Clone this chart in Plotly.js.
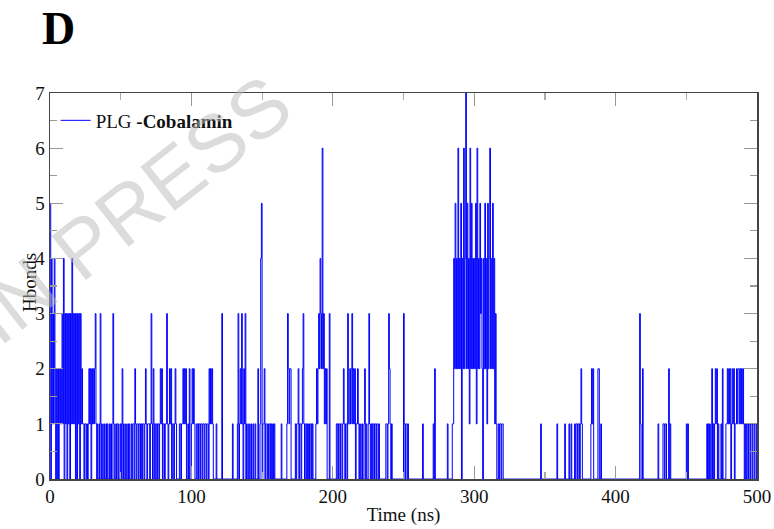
<!DOCTYPE html>
<html>
<head>
<meta charset="utf-8">
<script src="https://cdn.plot.ly/plotly-3.0.1.min.js"></script>
<style>html,body{margin:0;padding:0;background:#fff;}#chart{width:774px;height:529px;}</style>
</head>
<body>
<div id="chart"></div>
<script>
const timeStepNs = 0.5;
const hbonds = [
  5,0,4,1,3,1,4,2,0,2,0,2,0,2,1,2,1,3,1,4,
  0,3,1,3,0,3,1,3,0,3,1,4,1,3,1,3,0,3,0,3,
  1,3,0,3,1,2,1,1,0,1,1,0,1,0,1,2,1,2,0,2,
  1,2,1,2,3,1,0,1,0,0,1,3,0,1,0,0,1,0,0,1,
  0,1,0,0,1,0,1,0,0,3,1,0,0,1,0,1,1,0,0,1,
  0,1,2,0,1,0,0,1,0,0,1,0,1,0,0,1,0,1,1,0,
  2,1,0,1,1,0,1,1,0,1,0,1,1,0,1,2,1,0,1,1,
  1,0,1,3,1,0,2,1,0,1,1,0,1,1,0,1,2,1,2,0,
  1,1,0,1,1,3,1,0,1,2,1,2,0,1,1,0,1,2,1,0,
  0,0,0,1,1,0,1,1,2,1,2,1,2,0,0,1,0,2,0,0,
  1,2,1,2,1,0,0,1,1,0,1,1,0,1,1,0,1,1,0,1,
  1,0,1,1,0,2,1,2,1,2,1,0,0,0,0,1,0,0,0,0,
  0,0,0,3,0,0,0,0,0,0,0,0,0,0,0,0,0,0,1,0,
  0,0,0,0,0,1,3,0,1,2,1,3,1,0,2,1,3,0,1,0,
  0,1,0,0,1,0,0,1,0,0,1,0,0,0,2,0,0,1,4,5,
  0,1,1,2,0,1,1,0,1,0,1,1,0,1,0,1,0,1,0,0,
  0,0,0,0,0,0,0,1,0,0,0,0,0,0,0,1,3,2,1,2,
  2,0,0,0,0,0,0,1,0,1,1,2,0,1,1,0,1,2,3,1,
  0,1,1,0,1,0,1,0,1,1,0,1,0,0,0,0,1,2,1,2,
  3,2,4,3,2,6,2,3,1,2,1,2,0,0,0,3,0,0,0,0,
  0,0,0,0,0,1,1,0,1,1,0,1,1,0,1,2,1,0,1,1,
  0,3,1,1,2,1,2,3,1,2,1,2,0,1,1,2,1,0,1,0,
  0,1,0,0,1,2,0,1,0,0,1,3,1,0,1,0,1,1,0,1,
  1,0,1,1,0,1,0,0,0,0,0,0,0,0,0,1,1,0,1,3,
  2,1,0,1,0,0,0,0,0,0,0,0,0,0,0,0,0,0,0,0,
  3,1,0,1,1,0,1,0,0,0,0,0,0,0,0,0,0,0,0,0,
  0,0,0,0,0,0,0,1,0,0,0,0,0,0,0,0,0,0,0,0,
  0,0,1,0,2,0,0,0,0,0,0,0,0,0,0,0,0,0,0,0,
  0,0,1,0,0,0,0,0,0,1,1,4,2,5,2,4,2,6,2,4,
  2,5,0,4,2,6,2,4,7,2,5,2,4,1,6,2,5,2,4,2,
  4,2,5,1,6,2,4,2,5,3,4,2,0,4,2,5,2,4,1,5,
  2,4,6,2,4,2,5,2,4,1,3,1,0,0,1,0,1,1,0,1,
  1,0,0,0,0,0,0,0,0,0,0,0,0,0,0,0,0,0,0,0,
  0,0,0,0,0,0,0,0,0,0,0,0,0,0,0,0,0,0,0,0,
  0,0,0,0,0,0,0,0,0,0,0,0,0,0,1,0,0,0,0,0,
  0,0,0,0,0,0,0,0,0,0,0,0,0,0,0,0,0,1,0,0,
  0,0,0,0,0,0,0,0,1,0,0,0,0,0,1,0,0,1,0,0,
  0,0,1,0,1,1,0,1,1,0,1,2,1,0,0,0,0,0,0,0,
  0,0,0,0,0,1,2,1,2,0,0,0,0,0,0,2,2,0,0,1,
  0,0,0,0,0,0,0,0,0,0,0,0,0,0,0,0,0,0,0,0,
  0,0,0,0,0,0,0,0,0,0,0,0,0,0,0,0,0,0,0,0,
  0,0,0,0,0,0,0,0,0,0,0,0,0,0,3,1,0,0,2,0,
  0,0,0,0,0,0,0,0,0,0,0,0,0,0,0,0,0,0,0,0,
  1,0,0,0,0,0,0,1,1,0,1,1,0,0,0,2,0,1,0,0,
  0,0,0,0,0,0,0,0,0,0,0,0,0,0,0,0,0,0,0,0,
  1,0,1,0,0,0,0,0,0,0,0,0,0,0,0,0,0,0,0,0,
  0,0,0,0,0,0,0,0,0,1,0,1,0,1,0,0,2,0,1,0,
  1,2,1,2,0,1,0,0,0,1,0,2,0,0,0,0,1,1,2,1,
  2,1,2,0,1,2,1,2,0,1,1,2,1,2,2,1,2,1,2,1,
  2,1,0,1,0,1,1,0,1,1,0,1,1,0,1,1,0,1,1,0,
  1
];
const timeNs = hbonds.map((_, i) => i * timeStepNs);

const seriesName = 'PLG <b>-Cobalamin</b>';
const xTicks = [0, 100, 200, 300, 400, 500];
const yTicks = [0, 1, 2, 3, 4, 5, 6, 7];
const xTitle = 'Time (ns)';
const yTitle = 'Hbonds';
const panelLabel = 'D';
const watermark = 'IN PRESS';

const serif = 'Liberation Serif, Times New Roman, serif';

const trace = {
  x: timeNs,
  y: hbonds,
  type: 'scatter',
  mode: 'lines',
  name: seriesName,
  line: {color: '#0000ff', width: 1, shape: 'hv', simplify: false},
  showlegend: true
};

const axisCommon = {
  showgrid: false,
  zeroline: false,
  showline: true,
  linecolor: '#444',
  linewidth: 1.5,
  mirror: 'ticks',
  ticks: 'inside',
  ticklen: 13,
  tickwidth: 1.2,
  tickcolor: '#999',
  tickfont: {family: serif, size: 19, color: '#111'}
};

const layout = {
  width: 774,
  height: 529,
  margin: {l: 50, r: 17, t: 93, b: 50},
  paper_bgcolor: '#fff',
  plot_bgcolor: '#fff',
  font: {family: serif, size: 19, color: '#111'},
  xaxis: Object.assign({}, axisCommon, {
    range: [0, 500],
    tickvals: xTicks,
    ticktext: xTicks.map(String),
    minor: {ticks: 'inside', ticklen: 7, dtick: 50, tickcolor: '#aaa', tickwidth: 1.2},
    title: {text: xTitle, font: {family: serif, size: 19, color: '#111'}, standoff: 1}
  }),
  yaxis: Object.assign({}, axisCommon, {
    range: [0, 7],
    tickvals: yTicks,
    ticktext: yTicks.map(String),
    minor: {ticks: 'inside', ticklen: 7, dtick: 0.5, tickcolor: '#999', tickwidth: 1.2}
  }),
  showlegend: true,
  legend: {
    x: 0.008, y: 0.978, xanchor: 'left', yanchor: 'top',
    bgcolor: 'rgba(0,0,0,0)',
    font: {family: serif, size: 19, color: '#111'},
    itemwidth: 30
  },
  annotations: [
    {
      text: panelLabel, xref: 'paper', yref: 'paper',
      x: -0.014, y: 1.238, xanchor: 'left', yanchor: 'top',
      showarrow: false,
      font: {family: serif, size: 46, color: '#000', weight: 'bold'}
    },
    {
      text: yTitle, xref: 'paper', yref: 'paper',
      x: -0.03, y: 0.51, xanchor: 'center', yanchor: 'middle',
      textangle: -90, showarrow: false,
      font: {family: serif, size: 19, color: '#111'}
    },
    {
      text: watermark, xref: 'paper', yref: 'paper',
      x: 0.115, y: 0.699, xanchor: 'center', yanchor: 'middle',
      textangle: -38, showarrow: false,
      font: {family: 'Liberation Sans, Arial, sans-serif', size: 81, color: 'rgba(185,185,185,0.5)'}
    }
  ]
};

Plotly.newPlot('chart', [trace], layout, {staticPlot: true, displayModeBar: false});
</script>
</body>
</html>
